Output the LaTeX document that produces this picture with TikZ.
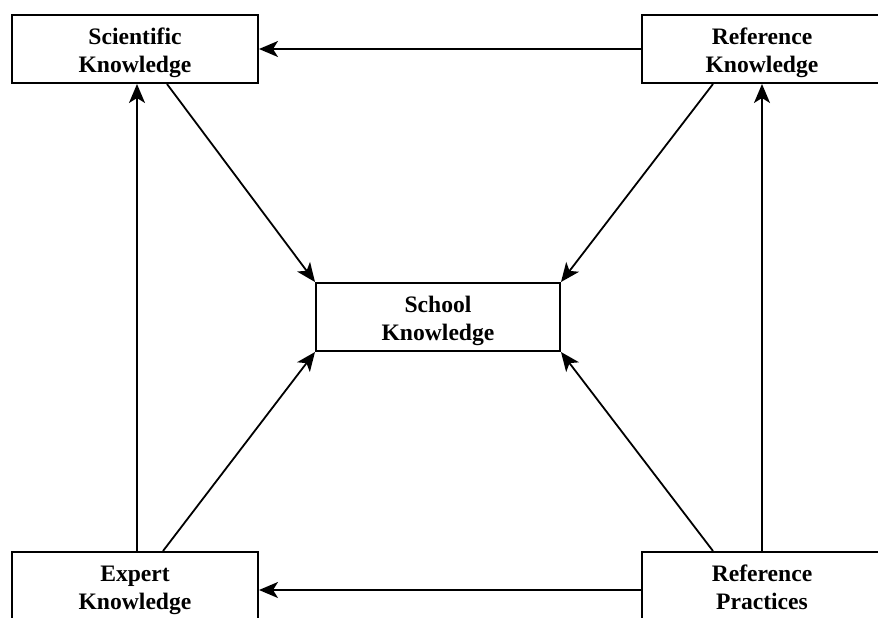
\documentclass[tikz,border=0pt]{standalone}
\usepackage{fontspec}
\setmainfont{Liberation Serif}
\usetikzlibrary{arrows.meta,positioning}
\newcommand{\topstrut}{\rule{0pt}{13.8pt}}
\newcommand{\botstrut}{\rule[-4.2pt]{0pt}{4.2pt}}

\begin{document}
\begin{tikzpicture}[x=0.5pt,y=-0.5pt,
  box/.style={draw,line width=1pt,rectangle,align=center,inner sep=0pt,minimum height=34pt,font=\bfseries\fontsize{11.8}{14}\selectfont},
  arr/.style={-{Stealth[length=9.5pt,width=8pt,inset=2.5pt]},line width=0.9pt}]
                                \useasboundingbox (0,0) rectangle (878,617);
                                \clip (0,0) rectangle (878,617);
                                \node[box,minimum width=123pt] (sci) at (135,49) {\topstrut Scientific\\Knowledge\botstrut};
                                \node[box,minimum width=120pt] (refk) at (762,49) {\topstrut Reference\\Knowledge\botstrut};
                                \node[box,minimum width=122pt] (school) at (438,317) {\topstrut School\\Knowledge\botstrut};
                                \node[box,minimum width=123pt] (exp) at (135,586) {\topstrut Expert\\Knowledge\botstrut};
                                \node[box,minimum width=120pt] (refp) at (762,586) {\topstrut Reference\\Practices\botstrut};

                                \draw[arr] (refk.west) -- (sci.east);
                                \draw[arr] ([yshift=-2pt]refp.west) -- ([yshift=-2pt]exp.east);
                                \draw[arr] ([xshift=1pt]exp.north) -- ([xshift=1pt]sci.south);
                                \draw[arr] (refp.north) -- (refk.south);
                                \draw[arr] ([xshift=16pt]sci.south) -- (school.north west);
                                \draw[arr] ([xshift=-24.5pt]refk.south) -- (school.north east);
                                \draw[arr] ([xshift=14pt]exp.north) -- (school.south west);
                                \draw[arr] ([xshift=-24.5pt]refp.north) -- (school.south east);
                            \end{tikzpicture}
\end{document}
